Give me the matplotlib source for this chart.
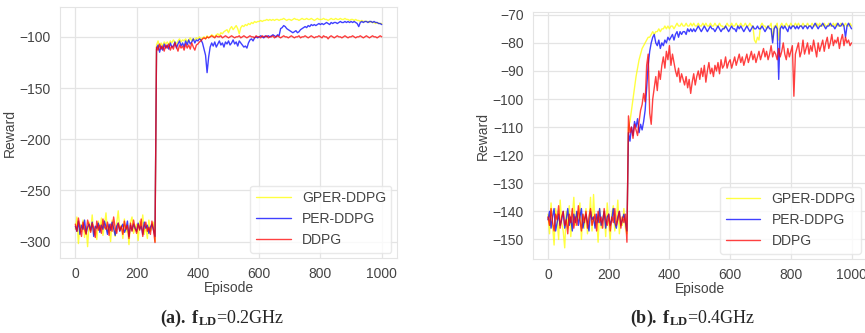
import numpy as np
import matplotlib
matplotlib.use("Agg")
import matplotlib.pyplot as plt
import seaborn as sns

sns.set_style("whitegrid")
plt.rcParams['font.family'] = ['Liberation Sans', 'DejaVu Sans']
plt.rcParams['mathtext.fontset'] = 'custom'
plt.rcParams['mathtext.rm'] = 'Liberation Serif'
plt.rcParams['mathtext.bf'] = 'Liberation Serif:bold'

###############################
# Data (episodes every 5 steps)
episodes = np.arange(0, 1001, 5)

labels = ["GPER-DDPG", "PER-DDPG", "DDPG"]
colors = ["#FFFF00", "#0000FF", "#FF0000"]

# (a) f_LD = 0.2GHz
gper_a = [
    -288, -276, -302, -283, -290, -279, -296, -285, -305, -281,
    -290, -274, -293, -286, -298, -280, -289, -277, -294, -284,
    -272, -291, -285, -300, -279, -287, -295, -282, -270, -289,
    -284, -297, -278, -291, -286, -303, -281, -276, -292, -287,
    -283, -299, -280, -288, -274, -293, -285, -297, -279, -290,
    -286, -281, -300, -108, -104, -110, -106, -109, -105, -107,
    -105, -108, -104, -106, -103, -105, -107, -104, -102, -105,
    -103, -104, -102, -105, -103, -101, -104, -102, -103, -101,
    -102, -100, -103, -101, -100, -102, -99, -101, -100, -98,
    -99, -100, -98, -97, -99, -96, -97, -95, -94, -93,
    -96, -92, -90, -93, -91, -89, -92, -97, -91, -89,
    -90, -88, -89, -87, -88, -86, -87, -85, -86, -85,
    -85, -84, -85, -84, -84, -83, -84, -83, -84, -83,
    -84, -83, -83, -84, -83, -83, -82, -83, -84, -83,
    -83, -84, -83, -82, -83, -83, -84, -83, -82, -83,
    -83, -82, -83, -83, -82, -83, -84, -83, -82, -83,
    -83, -83, -82, -83, -83, -84, -83, -82, -83, -83,
    -82, -83, -83, -82, -83, -83, -82, -83, -83, -84,
    -83, -83, -84, -83, -84, -84, -85, -84, -85, -85,
    -85, -85, -86, -85, -86, -86, -87, -86, -87, -87,
    -87]
per_a = [
    -285, -290, -280, -293, -284, -288, -279, -292, -286, -283,
    -289, -281, -295, -285, -287, -282, -291, -284, -288, -280,
    -286, -293, -283, -289, -281, -287, -294, -285, -282, -290,
    -286, -283, -291, -288, -280, -295, -284, -289, -283, -287,
    -290, -282, -288, -285, -293, -281, -287, -284, -292, -286,
    -283, -289, -295, -112, -108, -115, -109, -113, -107, -111,
    -108, -112, -106, -110, -109, -105, -111, -107, -104, -109,
    -106, -110, -104, -108, -103, -107, -105, -102, -106, -103,
    -104, -102, -103, -106, -112, -118, -135, -120, -110, -106,
    -109, -105, -110, -107, -104, -108, -106, -110, -105, -107,
    -104, -108, -106, -103, -107, -105, -109, -104, -106, -108,
    -110, -109, -111, -106, -103, -102, -104, -101, -100, -101,
    -100, -99, -100, -101, -99, -100, -99, -100, -99, -98,
    -99, -100, -98, -99, -92, -91, -89, -90, -92, -93,
    -94, -95, -96, -95, -94, -96, -95, -93, -92, -91,
    -90, -91, -89, -90, -88, -89, -88, -89, -88, -87,
    -88, -87, -88, -87, -86, -87, -88, -86, -87, -86,
    -86, -87, -86, -85, -86, -86, -85, -86, -85, -86,
    -85, -86, -85, -86, -87, -90, -86, -85, -86, -85,
    -85, -86, -85, -85, -86, -85, -86, -86, -87, -87,
    -88]
ddpg_a = [
    -283, -290, -277, -286, -295, -281, -288, -293, -279, -285,
    -291, -282, -287, -296, -280, -289, -284, -292, -278, -286,
    -288, -281, -294, -283, -290, -276, -287, -292, -282, -289,
    -285, -293, -280, -288, -284, -297, -282, -290, -279, -287,
    -292, -283, -289, -278, -295, -285, -281, -290, -286, -293,
    -280, -288, -301, -110, -113, -107, -112, -109, -114, -108,
    -111, -107, -113, -109, -112, -106, -110, -114, -108, -111,
    -109, -113, -107, -111, -108, -112, -106, -110, -113, -108,
    -107, -105, -104, -102, -101, -102, -100, -101, -100, -99,
    -100, -101, -99, -100, -100, -99, -101, -100, -99, -100,
    -101, -100, -99, -100, -101, -100, -100, -99, -101, -100,
    -99, -100, -101, -100, -99, -100, -100, -101, -99, -100,
    -100, -101, -99, -100, -100, -99, -101, -100, -100, -99,
    -101, -100, -99, -100, -101, -100, -99, -100, -100, -101,
    -100, -99, -100, -101, -100, -100, -99, -101, -100, -100,
    -99, -100, -101, -100, -99, -100, -101, -100, -100, -99,
    -100, -101, -99, -100, -100, -102, -100, -99, -100, -101,
    -100, -99, -100, -100, -101, -100, -99, -100, -101, -100,
    -100, -99, -100, -101, -100, -100, -99, -100, -101, -100,
    -99, -100, -101, -100, -99, -100, -100, -101, -100, -99,
    -100]

# (b) f_LD = 0.4GHz
gper_b = [
    -141, -148, -137, -145, -152, -139, -143, -150, -136, -144,
    -147, -153, -140, -146, -138, -149, -142, -135, -145, -140,
    -143, -137, -150, -141, -146, -139, -148, -144, -135, -147,
    -134, -145, -142, -151, -139, -146, -143, -140, -149, -137,
    -144, -150, -141, -138, -147, -143, -136, -148, -142, -145,
    -139, -146, -148, -110, -108, -104, -100, -96, -92, -89,
    -86, -84, -82, -81, -80, -79, -78, -78, -77, -76,
    -77, -76, -76, -75, -76, -75, -75, -74, -75, -74,
    -75, -74, -74, -75, -74, -73, -74, -74, -73, -74,
    -74, -73, -74, -74, -73, -74, -73, -74, -74, -73,
    -74, -74, -73, -74, -73, -74, -74, -73, -74, -74,
    -73, -74, -74, -73, -74, -74, -75, -74, -73, -74,
    -74, -73, -74, -74, -73, -74, -74, -73, -74, -74,
    -73, -74, -74, -73, -74, -74, -79, -80, -78, -79,
    -74, -73, -74, -74, -75, -74, -74, -73, -79, -74,
    -74, -73, -79, -74, -73, -74, -74, -73, -74, -74,
    -73, -74, -74, -73, -74, -73, -74, -74, -73, -74,
    -74, -73, -74, -74, -73, -74, -74, -73, -74, -73,
    -74, -74, -73, -74, -74, -73, -74, -74, -73, -74,
    -73, -74, -74, -73, -74, -74, -73, -74, -74, -73,
    -74]
per_b = [
    -143, -140, -146, -142, -139, -147, -144, -141, -145, -143,
    -140, -146, -143, -139, -145, -142, -147, -141, -144, -140,
    -145, -142, -139, -146, -143, -141, -144, -147, -140, -143,
    -142, -146, -141, -144, -139, -145, -143, -140, -146, -142,
    -141, -145, -143, -139, -144, -146, -142, -140, -145, -143,
    -141, -144, -147, -112, -115, -110, -113, -108, -110, -107,
    -112, -109, -111, -108, -104, -96, -88, -83, -80, -78,
    -77, -80, -81, -79, -82, -80, -81, -79, -80, -78,
    -79, -78, -77, -79, -77, -76, -78, -76, -77, -76,
    -76, -77, -75, -76, -75, -76, -75, -76, -75, -74,
    -75, -76, -75, -74, -75, -76, -75, -74, -75, -75,
    -76, -75, -74, -75, -76, -75, -75, -74, -75, -76,
    -75, -74, -75, -75, -76, -74, -75, -74, -75, -76,
    -75, -74, -75, -76, -75, -74, -75, -75, -74, -75,
    -75, -74, -75, -76, -75, -74, -75, -75, -80, -75,
    -74, -75, -93, -75, -74, -75, -74, -75, -76, -74,
    -75, -74, -74, -75, -74, -75, -74, -74, -75, -74,
    -74, -75, -74, -74, -75, -74, -73, -74, -75, -74,
    -74, -73, -74, -75, -74, -74, -73, -74, -74, -75,
    -74, -73, -74, -74, -73, -74, -78, -74, -73, -74,
    -75]
ddpg_b = [
    -142, -145, -139, -144, -147, -141, -143, -138, -146, -142,
    -140, -145, -143, -148, -141, -144, -139, -146, -142, -145,
    -138, -143, -147, -141, -144, -140, -146, -142, -139, -145,
    -143, -141, -147, -140, -144, -142, -146, -139, -143, -145,
    -141, -147, -142, -144, -139, -145, -143, -140, -146, -142,
    -144, -141, -151, -106, -112, -110, -114, -109, -111, -113,
    -108, -104, -102, -98, -101, -88, -84, -105, -109, -100,
    -96, -92, -97, -90, -93, -88, -85, -89, -83, -86,
    -81, -88, -84, -87, -90, -92, -89, -94, -91, -93,
    -95, -92, -96, -93, -98, -94, -91, -95, -92, -90,
    -93, -89, -92, -88, -94, -90, -87, -91, -89, -92,
    -88, -90, -87, -91, -86, -89, -88, -85, -89, -87,
    -86, -89, -87, -85, -88, -86, -84, -87, -85, -88,
    -86, -84, -87, -85, -83, -86, -84, -87, -85, -83,
    -86, -84, -82, -85, -83, -86, -84, -81, -85, -83,
    -84, -86, -82, -85, -83, -80, -84, -86, -82, -85,
    -83, -81, -99, -84, -82, -80, -85, -83, -79, -84,
    -82, -80, -84, -81, -83, -79, -82, -85, -80, -83,
    -81, -79, -83, -80, -78, -82, -80, -77, -81, -79,
    -80, -78, -82, -79, -77, -81, -78, -80, -79, -81,
    -80]

panels = [
    ([gper_a, per_a, ddpg_a], [-300, -250, -200, -150, -100]),
    ([gper_b, per_b, ddpg_b], [-150, -140, -130, -120, -110, -100, -90, -80, -70]),
]
captions = [r'$\mathbf{(a).\,f_{LD}}$=0.2GHz', r'$\mathbf{(b).\,f_{LD}}$=0.4GHz']
###############################

fig = plt.figure(figsize=(8.65, 3.33), dpi=100)
boxes = [[0.0694, 0.225, 0.3896, 0.754], [0.616, 0.222, 0.386, 0.742]]
cap_x = [0.257, 0.801]

for k, (series, yticks) in enumerate(panels):
    ax = fig.add_axes(boxes[k])
    for vals, lab, col in zip(series, labels, colors):
        ax.plot(episodes, vals, color=col, lw=1.0, alpha=0.75, label=lab)
    ax.set_xticks([0, 200, 400, 600, 800, 1000])
    ax.set_yticks(yticks)
    ax.tick_params(labelsize=10, colors='#444444', pad=3)
    ax.set_xlabel("Episode", fontsize=10, color='#444444', labelpad=0)
    ax.set_ylabel("Reward", fontsize=10, color='#444444', labelpad=2)
    ax.grid(color='#E4E4E4', lw=0.9)
    for s in ax.spines.values():
        s.set_color('#E4E4E4')
    leg = ax.legend(loc='lower right', fontsize=10, frameon=True,
                    handlelength=2.5, borderaxespad=0.4)
    leg.get_frame().set_edgecolor('#E4E4E4')
    for t in leg.get_texts():
        t.set_color('#444444')
    fig.text(cap_x[k], 0.045, captions[k], ha='center', va='center',
             fontsize=13, family='Liberation Serif')

fig.savefig("out.png", dpi=100)
